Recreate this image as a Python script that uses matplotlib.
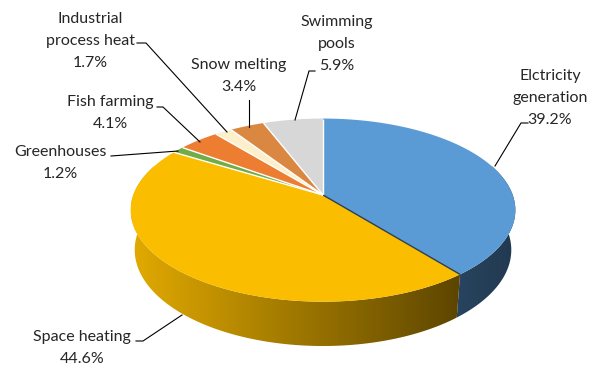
import numpy as np
import matplotlib.pyplot as plt
from matplotlib.patches import Polygon
from matplotlib.colors import LinearSegmentedColormap

# data
labels = ['Elctricity\ngeneration', 'Space heating', 'Greenhouses', 'Fish farming',
          'Industrial\nprocess heat', 'Snow melting', 'Swimming\npools']
values = [39.2, 44.6, 1.2, 4.1, 1.7, 3.4, 5.9]
colors = ['#5B9BD5', '#FABD00', '#70AD47', '#ED7D31', '#FCEFC9', '#DA8742', '#D7D7D7']
side_colors = [('#284460', '#22394F'), ('#E2AA00', '#5C4500'), ('#4E7A31', '#3A5B24'),
               ('#B55E22', '#8A4718'), ('#C9BD9E', '#9E9479'), ('#A8662F', '#7E4C22'),
               ('#A8A8A8', '#808080')]

# label layout (pixel coords): text centre, leader line points
label_pos = [(550, 98), (82, 348), (60, 163), (110, 113), (90, 41), (239, 76), (337, 44)]
leaders = [
    [(528, 123), (521, 123), (495, 166)],
    [(136, 341), (143, 341), (182, 315)],
    [(111, 156), (178, 151)],
    [(157, 107), (163, 107), (200, 142)],
    [(137, 43), (146, 43), (227, 132)],
    [(249, 100), (249, 127)],
    [(315, 71), (309, 71), (295, 120)],
]

# perspective view of the disc
ELEV = np.radians(28)
DIST = 5.35
SCALE = 1015
CX, CY = 323, 195
THICK = 0.24


def project(theta, r=1.0, w=0.0):
    u = r * np.cos(theta)
    v = r * np.sin(theta)
    Y = v * np.sin(ELEV) + w * np.cos(ELEV)
    Z = DIST + v * np.cos(ELEV) - w * np.sin(ELEV)
    return CX + SCALE * u / Z, CY - SCALE * Y / Z


fig = plt.figure(figsize=(5.93, 3.71), dpi=100)
ax = fig.add_axes([0, 0, 1, 1])
ax.axis('off')

total = sum(values)
ends = 90 - 360 * np.cumsum(values) / total
starts = np.concatenate([[90], ends[:-1]])

# side walls (front half only)
for i in range(len(values)):
    lo = max(ends[i], -200)
    hi = min(starts[i], 20)
    if lo >= hi:
        continue
    t = np.radians(np.linspace(lo, hi, 120))
    tx, ty = project(t)
    bx, by = project(t, 1.0, -THICK)
    pts = np.column_stack([np.concatenate([tx, bx[::-1]]), np.concatenate([ty, by[::-1]])])
    poly = Polygon(pts, closed=True, facecolor='none', edgecolor='none')
    ax.add_patch(poly)
    cmap = LinearSegmentedColormap.from_list('side%d' % i, side_colors[i])
    grad = np.linspace(0, 1, 256).reshape(1, -1)
    im = ax.imshow(grad, cmap=cmap, aspect='auto', zorder=1,
                   extent=[pts[:, 0].min(), pts[:, 0].max(), pts[:, 1].max(), pts[:, 1].min()])
    im.set_clip_path(poly)

# top faces
for i in range(len(values)):
    t = np.radians(np.linspace(ends[i], starts[i], 150))
    ax_, ay_ = project(t)
    px = np.concatenate([[CX], ax_])
    py = np.concatenate([[CY], ay_])
    ax.add_patch(Polygon(np.column_stack([px, py]), closed=True, facecolor=colors[i],
                         edgecolor='none', zorder=2))

# slice borders
for i, a in enumerate(starts):
    ex, ey = project(np.radians(a))
    c = '#2B3F55' if i == 1 else 'white'
    ax.plot([CX, ex], [CY, ey], color=c, lw=1.0, zorder=3, solid_capstyle='butt')

# labels
for i in range(len(values)):
    x, y = label_pos[i]
    ax.text(x, y, '%s\n%.1f%%' % (labels[i], values[i]), ha='center', va='center',
            fontsize=11.5, family='Lato', color='#262626', linespacing=1.7, zorder=5)
    lx, ly = zip(*leaders[i])
    ax.plot(lx, ly, color='black', lw=0.8, zorder=4)

ax.set_xlim(0, 593)
ax.set_ylim(371, 0)
fig.savefig('out.png', dpi=100)
